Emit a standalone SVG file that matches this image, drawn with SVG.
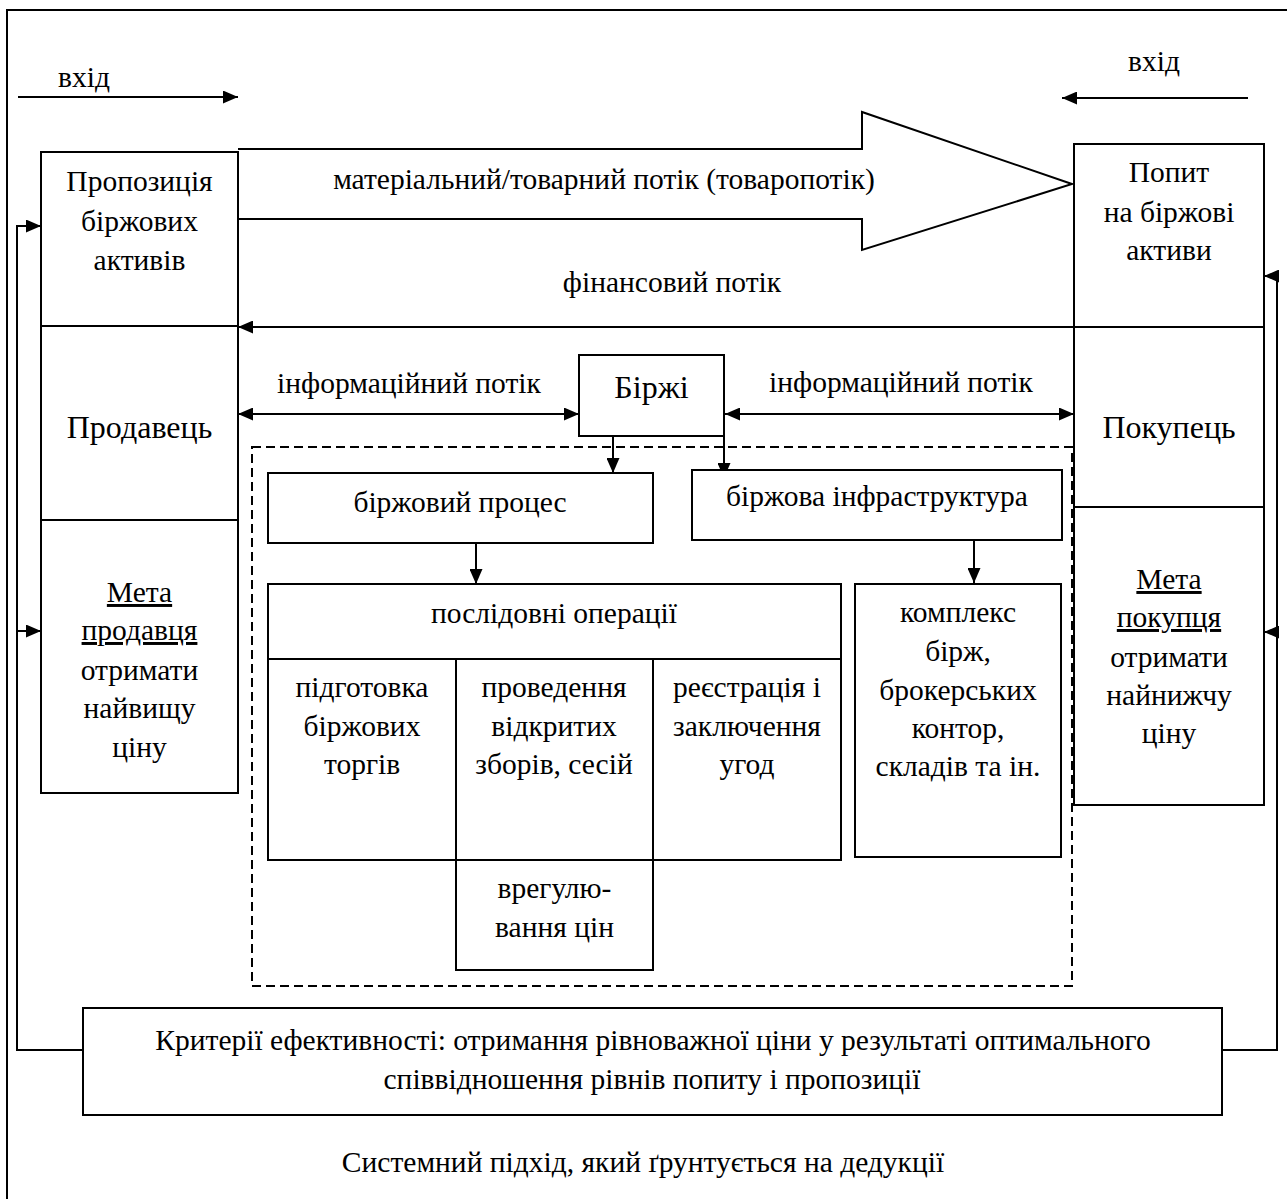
<svg xmlns="http://www.w3.org/2000/svg" width="1287" height="1199" viewBox="0 0 1287 1199">
<style>
.t{font-family:"Liberation Serif","Times New Roman",serif;font-size:29.5px;fill:#000;text-anchor:middle}
.big{font-size:32px}
.b{fill:#fff;stroke:#000;stroke-width:2}
.l{fill:none;stroke:#000;stroke-width:2}
.d{fill:none;stroke:#000;stroke-width:2;stroke-dasharray:9 5}
.u{text-decoration:underline}
</style>
<defs>
<marker id="ah" viewBox="0 0 15 13" refX="15" refY="6.5" markerWidth="15" markerHeight="13" orient="auto-start-reverse" markerUnits="userSpaceOnUse"><path d="M0,0 L15,6.5 L0,13 z" fill="#000"/></marker>
</defs>
<rect width="1287" height="1199" fill="#fff"/>
<g id="frame"><path class="l" d="M7,1199 V10 H1287"/></g>

<g id="connectors">
<line class="l" x1="18" y1="97" x2="238" y2="97" marker-end="url(#ah)"/>
<line class="l" x1="1248" y1="98" x2="1062" y2="98" marker-end="url(#ah)"/>
<line class="l" x1="1074" y1="327" x2="238" y2="327" marker-end="url(#ah)"/>
<line class="l" x1="238" y1="414" x2="579" y2="414" marker-start="url(#ah)" marker-end="url(#ah)"/>
<line class="l" x1="725" y1="414" x2="1074" y2="414" marker-start="url(#ah)" marker-end="url(#ah)"/>
<line class="l" x1="613" y1="436" x2="613" y2="473" marker-end="url(#ah)"/>
<line class="l" x1="724" y1="436" x2="724" y2="478" marker-end="url(#ah)"/>
<line class="l" x1="476" y1="543" x2="476" y2="584" marker-end="url(#ah)"/>
<line class="l" x1="974" y1="540" x2="974" y2="583" marker-end="url(#ah)"/>
<path class="l" d="M83,1050 H17 V226 H41" marker-end="url(#ah)"/>
<line class="l" x1="17" y1="631" x2="41" y2="631" marker-end="url(#ah)"/>
<path class="l" d="M1222,1050 H1277 V276 H1264" marker-end="url(#ah)"/>
<line class="l" x1="1277" y1="632" x2="1264" y2="632" marker-end="url(#ah)"/>
</g>

<g id="flow-material">
<path class="l" d="M238,149 H862 V112 L1072,184 L862,250 V219 H238"/>
<text class="t" x="604" y="189">матеріальний/товарний потік (товаропотік)</text>
</g>
<g id="flow-financial"><text class="t" x="672" y="292">фінансовий потік</text></g>
<g id="flow-info-left"><text class="t" x="409" y="393">інформаційний потік</text></g>
<g id="flow-info-right"><text class="t" x="901" y="392">інформаційний потік</text></g>
<g id="input-left"><text class="t" x="84" y="87">вхід</text></g>
<g id="input-right"><text class="t" x="1154" y="71">вхід</text></g>

<g id="seller">
<rect class="b" x="41" y="152" width="197" height="641"/>
<line class="l" x1="41" y1="326" x2="238" y2="326"/>
<line class="l" x1="41" y1="520" x2="238" y2="520"/>
<text class="t" x="139.5" y="191">Пропозиція</text>
<text class="t" x="139.5" y="231">біржових</text>
<text class="t" x="139.5" y="270">активів</text>
<text class="t big" x="139.5" y="438">Продавець</text>
<text class="t u" x="139.5" y="602">Мета</text>
<text class="t u" x="139.5" y="640">продавця</text>
<text class="t" x="139.5" y="680">отримати</text>
<text class="t" x="139.5" y="718">найвищу</text>
<text class="t" x="139.5" y="757">ціну</text>
</g>

<g id="buyer">
<rect class="b" x="1074" y="144" width="190" height="661"/>
<line class="l" x1="1074" y1="327" x2="1264" y2="327"/>
<line class="l" x1="1074" y1="507" x2="1264" y2="507"/>
<text class="t" x="1169" y="182">Попит</text>
<text class="t" x="1169" y="222">на біржові</text>
<text class="t" x="1169" y="260">активи</text>
<text class="t big" x="1169" y="438">Покупець</text>
<text class="t u" x="1169" y="589">Мета</text>
<text class="t u" x="1169" y="627">покупця</text>
<text class="t" x="1169" y="667">отримати</text>
<text class="t" x="1169" y="705">найнижчу</text>
<text class="t" x="1169" y="743">ціну</text>
</g>

<g id="exchange">
<rect class="b" x="579" y="355" width="145" height="81"/>
<text class="t big" x="651.5" y="398">Біржі</text>
</g>

<g id="exchange-system"><rect class="d" x="252" y="447" width="820" height="539"/></g>

<g id="process">
<rect class="b" x="268" y="473" width="385" height="70"/>
<text class="t" x="460" y="512">біржовий процес</text>
</g>
<g id="infrastructure">
<rect class="b" x="692" y="470" width="370" height="70"/>
<text class="t" x="877" y="506">біржова інфраструктура</text>
</g>

<g id="operations">
<rect class="b" x="268" y="584" width="573" height="276"/>
<line class="l" x1="268" y1="659" x2="841" y2="659"/>
<line class="l" x1="456" y1="659" x2="456" y2="860"/>
<line class="l" x1="653" y1="659" x2="653" y2="860"/>
<text class="t" x="554" y="623">послідовні операції</text>
<text class="t" x="362" y="697">підготовка</text>
<text class="t" x="362" y="736">біржових</text>
<text class="t" x="362" y="774">торгів</text>
<text class="t" x="554" y="697">проведення</text>
<text class="t" x="554" y="736">відкритих</text>
<text class="t" x="554" y="774">зборів, сесій</text>
<text class="t" x="747" y="697">реєстрація і</text>
<text class="t" x="747" y="736">заключення</text>
<text class="t" x="747" y="774">угод</text>
</g>
<g id="price-settlement">
<rect class="b" x="456" y="860" width="197" height="110"/>
<text class="t" x="554.5" y="898">врегулю-</text>
<text class="t" x="554.5" y="937">вання цін</text>
</g>

<g id="complex">
<rect class="b" x="855" y="584" width="206" height="273"/>
<text class="t" x="958" y="622">комплекс</text>
<text class="t" x="958" y="661">бірж,</text>
<text class="t" x="958" y="700">брокерських</text>
<text class="t" x="958" y="738">контор,</text>
<text class="t" x="958" y="776">складів та ін.</text>
</g>

<g id="criteria">
<rect class="b" x="83" y="1008" width="1139" height="107"/>
<text class="t" x="653" y="1050">Критерії ефективності: отримання рівноважної ціни у результаті оптимального</text>
<text class="t" x="652" y="1089">співвідношення рівнів попиту і пропозиції</text>
</g>

<g id="caption"><text class="t" x="643" y="1172">Системний підхід, який ґрунтується на дедукції</text></g>
</svg>
